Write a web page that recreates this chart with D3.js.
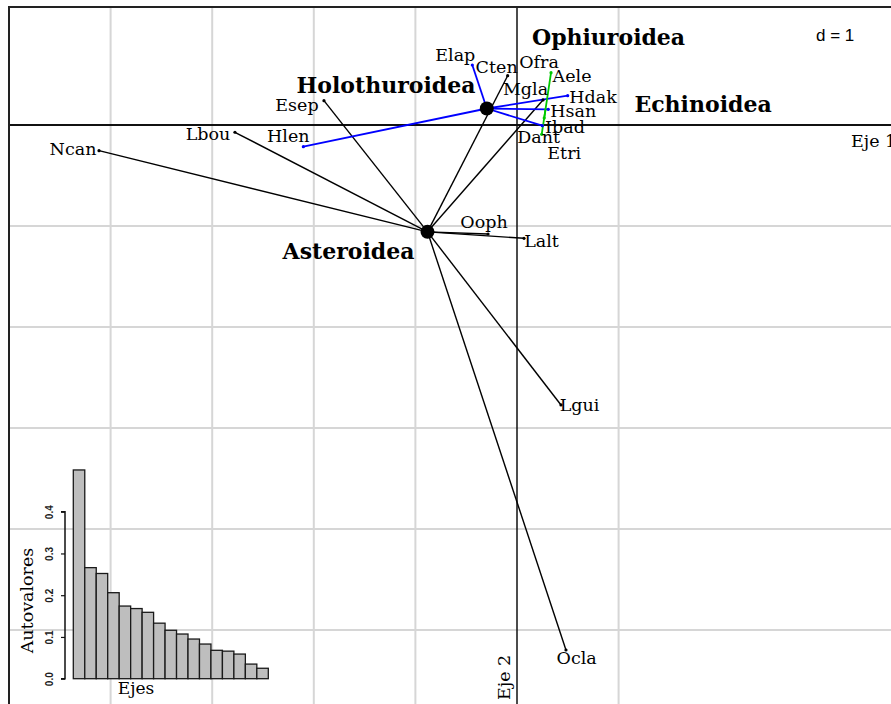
<!DOCTYPE html>
<html>
<head>
<meta charset="utf-8">
<script src="https://cdn.jsdelivr.net/npm/d3@7"></script>
<style>
  body { margin: 0; background: #fff; }
  svg { display: block; }
</style>
</head>
<body>
<svg id="chart" width="891" height="704"></svg>
<script>
// Species scores on the first two axes, grouped by class
const species = ["Ncan","Lbou","Esep","Cten","Mgla","Ooph","Lalt","Lgui","Ocla",
                 "Elap","Hlen","Hdak","Hsan","Ibad",
                 "Aele","Etri","Dant",
                 "Ofra"];
const speciesClass = ["Asteroidea","Asteroidea","Asteroidea","Asteroidea","Asteroidea","Asteroidea","Asteroidea","Asteroidea","Asteroidea",
                      "Holothuroidea","Holothuroidea","Holothuroidea","Holothuroidea","Holothuroidea",
                      "Echinoidea","Echinoidea","Echinoidea",
                      "Ophiuroidea"];
const axis1 = [-4.114,-2.776,-1.900,-0.092,0.256,-0.285,0.069,0.433,0.482,
               -0.440,-2.103,0.499,0.308,0.249,
               0.335,0.268,0.243,
               0.217];
const axis2 = [-0.254,-0.072,0.241,0.488,0.248,-1.079,-1.122,-2.772,-5.198,
               0.594,-0.215,0.290,0.155,-0.007,
               0.518,0.069,-0.092,
               0.644];

const classes = ["Asteroidea","Holothuroidea","Echinoidea","Ophiuroidea"];
const classColors = ["#000000","#0000ff","#00c800","#ff0000"];
const classDot = [true, true, false, false];

// Eigenvalues of the analysis
const eigenvalues = [0.500,0.266,0.252,0.206,0.174,0.168,0.159,0.133,0.116,0.107,0.095,0.083,0.068,0.066,0.059,0.035,0.025];
const eigTicks = [0, 0.1, 0.2, 0.3, 0.4];

const gridX = [-4, -3, -2, -1, 1];
const gridY = [-1, -2, -3, -4, -5];

// Label placement (pixel nudges from each point: dx to text centre, dy to baseline)
const labelDx = [-26,-27,-27,-11,-17.5,-4,17.5,18.5,10.7, -17,-15,25.3,25,22.7, 21,20,-3, 0];
const labelDy = [4.8,8,10,-3,-5,-6.3,8.4,6,14.3, -4,-4.7,7,8,7, 9.3,41,9, 8.3];
const classLabelDx = [-79, -100.8, 157.4, 69.5];
const classLabelDy = [27, -15.2, 3.4, -15];

const svg = d3.select("#chart");
const W = 891, H = 704;

const x = d3.scaleLinear().domain([-5, 4]).range([517 - 5 * 101.6, 517 + 4 * 101.6]);
const y = d3.scaleLinear().domain([-6, 2]).range([125 + 6 * 101, 125 - 2 * 101]);

const frameLeft = 9, frameTop = 7;
const serif = "DejaVu Serif, serif";

// grid
const grid = svg.append("g");
grid.selectAll("line.gx").data(gridX).join("line")
  .attr("x1", d => x(d)).attr("x2", d => x(d))
  .attr("y1", frameTop).attr("y2", H)
  .attr("stroke", "#d6d6d6").attr("stroke-width", 2);
grid.selectAll("line.gy").data(gridY).join("line")
  .attr("x1", frameLeft).attr("x2", W)
  .attr("y1", d => y(d)).attr("y2", d => y(d))
  .attr("stroke", "#d6d6d6").attr("stroke-width", 2);

// axes through the origin
svg.append("line").attr("x1", x(0)).attr("x2", x(0)).attr("y1", frameTop).attr("y2", H)
  .attr("stroke", "#111").attr("stroke-width", 1.5);
svg.append("line").attr("x1", frameLeft).attr("x2", W).attr("y1", y(0)).attr("y2", y(0))
  .attr("stroke", "#111").attr("stroke-width", 1.8);

// frame
svg.append("rect").attr("x", frameLeft).attr("y", frameTop)
  .attr("width", W + 20).attr("height", H + 20)
  .attr("fill", "none").attr("stroke", "#222").attr("stroke-width", 2);

// eigenvalue inset
const ey = d3.scaleLinear().domain([0, 0.4]).range([678.7, 511.7]);
const ex = d3.scaleBand().domain(d3.range(eigenvalues.length)).range([73.3, 268.3]).padding(0);
const inset = svg.append("g");
inset.selectAll("rect").data(eigenvalues).join("rect")
  .attr("x", (d, i) => ex(i)).attr("width", ex.bandwidth())
  .attr("y", d => ey(d)).attr("height", d => ey(0) - ey(d))
  .attr("fill", "#bebebe").attr("stroke", "#1a1a1a").attr("stroke-width", 1.3);
const eAxis = inset.append("g").attr("transform", "translate(65,0)")
  .call(d3.axisLeft(ey).tickValues(eigTicks).tickSize(4).tickFormat(d3.format(".1f")));
eAxis.select(".domain").attr("stroke", "#111").attr("stroke-width", 1.5).attr("d", `M-4,${ey(0.4)}H0V${ey(0)}H-4`);
eAxis.selectAll(".tick line").attr("stroke", "#111").attr("stroke-width", 1.2);
eAxis.selectAll(".tick text")
  .attr("x", 0).attr("dy", null).attr("y", 0)
  .attr("text-anchor", "middle")
  .attr("transform", "translate(-12,0) rotate(-90)")
  .attr("font-family", "Liberation Sans, Arial, sans-serif")
  .attr("font-size", 10).attr("font-weight", "bold").attr("fill", "#222");
inset.append("text")
  .attr("transform", "translate(33,600.5) rotate(-90)")
  .attr("text-anchor", "middle")
  .attr("font-family", serif).attr("font-size", 17.5)
  .text("Autovalores");
inset.append("text")
  .attr("x", 136).attr("y", 694)
  .attr("text-anchor", "middle")
  .attr("font-family", serif).attr("font-size", 17)
  .text("Ejes");

// class centroids computed from the species scores
const pts = species.map((s, i) => ({ name: s, cls: speciesClass[i], a1: axis1[i], a2: axis2[i], i }));
const cent = classes.map((c, k) => {
  const m = pts.filter(p => p.cls === c);
  return { cls: c, k, a1: d3.mean(m, p => p.a1), a2: d3.mean(m, p => p.a2), n: m.length };
});
const centOf = c => cent.find(o => o.cls === c);
const colOf = c => classColors[classes.indexOf(c)];

// star segments
svg.append("g").selectAll("line").data(pts.filter(p => centOf(p.cls).n > 1)).join("line")
  .attr("x1", p => x(centOf(p.cls).a1)).attr("y1", p => y(centOf(p.cls).a2))
  .attr("x2", p => x(p.a1)).attr("y2", p => y(p.a2))
  .attr("stroke", p => colOf(p.cls))
  .attr("stroke-width", p => p.cls === "Asteroidea" ? 1.4 : 1.8);

// species end points
svg.append("g").selectAll("circle").data(pts.filter(p => centOf(p.cls).n > 1)).join("circle")
  .attr("cx", p => x(p.a1)).attr("cy", p => y(p.a2)).attr("r", 1.6)
  .attr("fill", p => colOf(p.cls));

// centroid dots
svg.append("g").selectAll("circle").data(cent.filter(c => classDot[c.k])).join("circle")
  .attr("cx", c => x(c.a1)).attr("cy", c => y(c.a2)).attr("r", 7)
  .attr("fill", "#000");

// species labels
svg.append("g").selectAll("text").data(pts).join("text")
  .attr("x", p => x(p.a1) + labelDx[p.i]).attr("y", p => y(p.a2) + labelDy[p.i])
  .attr("text-anchor", "middle")
  .attr("font-family", serif).attr("font-size", 17.5)
  .attr("fill", "#000")
  .text(p => p.name);

// class labels
svg.append("g").selectAll("text").data(cent).join("text")
  .attr("x", c => x(c.a1) + classLabelDx[c.k]).attr("y", c => y(c.a2) + classLabelDy[c.k])
  .attr("text-anchor", "middle")
  .attr("font-family", serif).attr("font-size", 22).attr("font-weight", "bold")
  .attr("fill", "#000")
  .text(c => c.cls);

// axis titles and scale note
svg.append("text").attr("x", 851).attr("y", 146.5)
  .attr("font-family", serif).attr("font-size", 17.5).text("Eje 1");
svg.append("text").attr("transform", "translate(510,700) rotate(-90)")
  .attr("font-family", serif).attr("font-size", 17.5).text("Eje 2");
svg.append("text").attr("x", 816).attr("y", 40.5)
  .attr("font-family", "Liberation Sans, Arial, sans-serif").attr("font-size", 17).text("d = 1");
</script>
</body>
</html>
